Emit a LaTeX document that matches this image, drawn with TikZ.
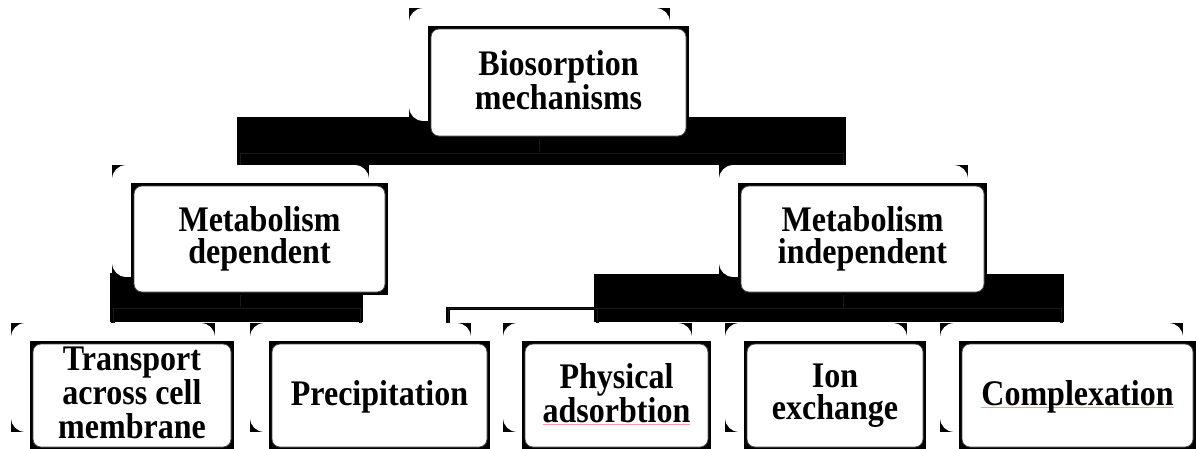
\documentclass[tikz,border=0pt]{standalone}
\usepackage{fontspec}
\setmainfont{Liberation Serif}
\newfontfamily\tallserif{Liberation Serif}[FakeStretch=0.89]
\usetikzlibrary{fit}
\pgfdeclarelayer{bg}
\pgfdeclarelayer{mid}
\pgfsetlayers{bg,mid,main}
\newcommand{\tstrut}{\rule[-0.15em]{0pt}{0.9em}}
\newcommand{\spellmark}[1]{\setbox0\hbox{#1}\rlap{\color{red!40}\rule[-2.5pt]{\wd0}{0.9pt}}\box0}

\begin{document}
\begin{tikzpicture}[x=1pt,y=-1pt,
  box/.style={draw=black!70,line width=0.8pt,fill=white,rounded corners=8pt,inner sep=0pt,align=center,
    font=\fontsize{36}{32}\selectfont\tallserif\bfseries,execute at begin node=\tstrut,execute at end node=\tstrut},
  conn/.style={draw=black,line width=1.2pt,double=black!90,double distance=0.8pt}]
\useasboundingbox (0,0) rectangle (1196,448);
\node[box,minimum width=255pt,minimum height=107pt] (bio) at (558.5,82.5) {Biosorption\\mechanisms};
\node[box,minimum width=251pt,minimum height=106pt] (dep) at (259.5,239) {Metabolism\\dependent};
\node[box,minimum width=243pt,minimum height=106pt] (indep) at (862.5,239) {Metabolism\\independent};
\node[box,minimum width=198pt,minimum height=103pt,font=\fontsize{36}{34}\selectfont\tallserif\bfseries] (trans) at (132,395.5) {Transport\\across cell\\membrane};
\node[box,minimum width=215pt,minimum height=103pt] (prec) at (379.5,395.5) {Precipitation};
\node[box,minimum width=183pt,minimum height=103pt] (phys) at (616.5,395.5) {Physical\\\spellmark{adsorbtion}};
\node[box,minimum width=176pt,minimum height=103pt] (ion) at (835,395.5) {Ion\\exchange};
\node[box,minimum width=231pt,minimum height=103pt] (comp) at (1077.5,395.5) {\spellmark{Complexation}};
\begin{pgfonlayer}{mid}
\foreach \n/\w in {bio/0,dep/0,indep/0,trans/0,prec/0,phys/0,ion/0,comp/6}{
  \node[fit={(\n)([xshift=\w pt]\n.east)},inner sep=2.5pt,xshift=-19pt,yshift=18pt,fill=black]{};
  \node[fit={(\n)([xshift=\w pt]\n.east)},inner sep=2.5pt,xshift=-19pt,yshift=18pt,fill=white,rounded corners=14pt] (g-\n){};
  \node[fit={(\n)([xshift=\w pt]\n.east)},inner sep=2.5pt,fill=black]{};
}
\end{pgfonlayer}
\begin{pgfonlayer}{bg}
\fill (237,117) rectangle (846,165);
\fill (110,273) rectangle (363,322);
\fill (594,274) rectangle (1064,322);
\draw[conn] (g-bio.south) -- ++(0,32.5) coordinate (j-bio);
\draw[conn] (g-dep.north) |- (j-bio) -| (g-indep.north);
\draw[conn] (g-dep.south) -- ++(0,31.5) coordinate (j-dep);
\draw[conn] (g-trans.north) |- (j-dep) -| (g-prec.north);
\draw[conn] (g-indep.south) -- ++(0,31.5) coordinate (j-indep);
\coordinate (stub) at (448,323);
\draw[conn] (stub) |- (j-indep) -| (g-comp.north);
\draw[conn] (g-phys.north) -- (g-phys.north |- j-indep);
\end{pgfonlayer}
\end{tikzpicture}
\end{document}
